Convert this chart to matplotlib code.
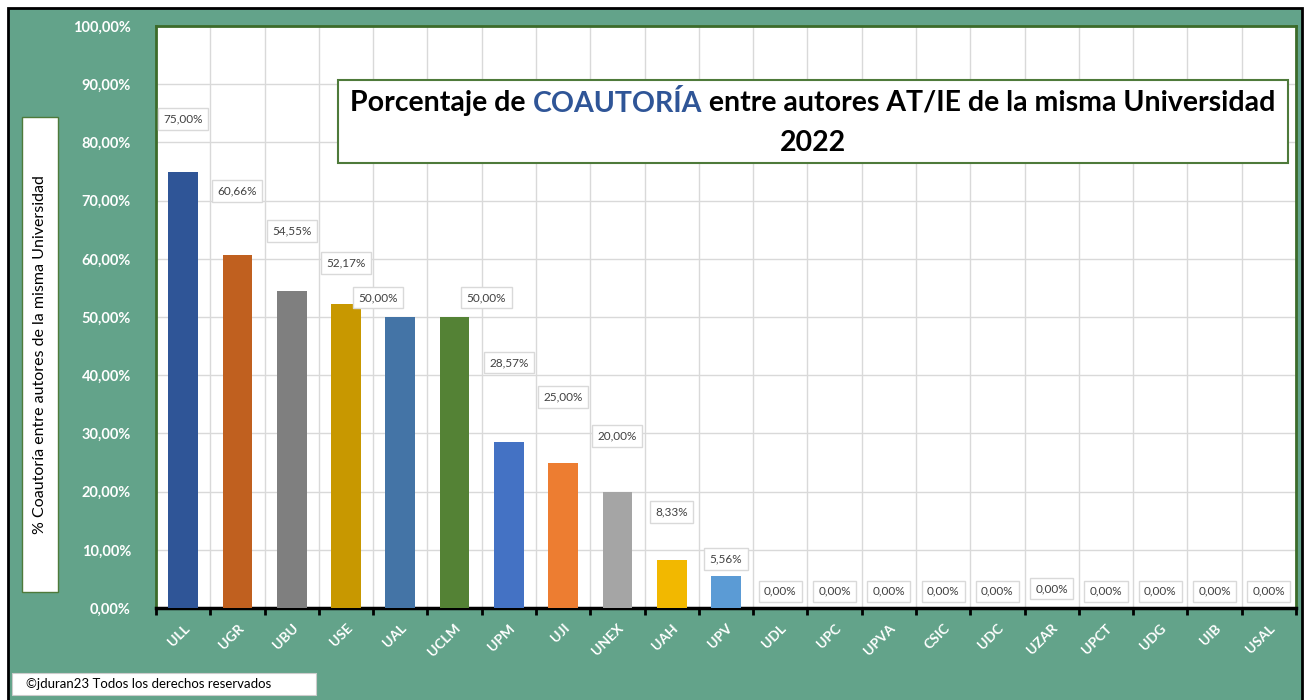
import matplotlib.pyplot as plt
from matplotlib.patches import Rectangle

universidades = ["ULL", "UGR", "UBU", "USE", "UAL", "UCLM", "UPM", "UJI", "UNEX", "UAH", "UPV",
                 "UDL", "UPC", "UPVA", "CSIC", "UDC", "UZAR", "UPCT", "UDG", "UIB", "USAL"]
porcentajes = [75.00, 60.66, 54.55, 52.17, 50.00, 50.00, 28.57, 25.00, 20.00, 8.33, 5.56,
               0, 0, 0, 0, 0, 0, 0, 0, 0, 0]
colores = ["#2F5597", "#C0601F", "#7F7F7F", "#C89800", "#4474A6", "#548235", "#4472C4",
           "#ED7D31", "#A5A5A5", "#F2B800", "#5B9BD5"] + ["#5B9BD5"] * 10
# desplazamiento de las etiquetas (puntos), colocadas a mano como en el original
etiq_dx = [0, 0, 0, 0, -16, 23, 0, 0, 0, 0, 0, 0, 0, 0, 0, 0, 0, 0, 0, 0, 0]
etiq_dy = [38, 46, 43, 30, 14, 14, 57, 47, 40, 34, 12, 12, 12, 12, 12, 12, 14, 12, 12, 12, 12]

verde = "#63A38A"
plt.rcParams["font.family"] = ["Lato", "DejaVu Sans"]

fig = plt.figure(figsize=(13.07, 7.0), dpi=100)
fig.patch.set_facecolor("white")
fig.patches.append(Rectangle((8 / 1307, -0.01), 1294 / 1307, 692 / 700 + 0.01,
                             transform=fig.transFigure,
                             facecolor=verde, edgecolor="black", linewidth=2, zorder=-5))

ax = fig.add_axes([156 / 1307, 92 / 700, 1140 / 1307, 582 / 700])
ax.set_facecolor("white")
x = range(len(universidades))
ax.bar(x, porcentajes, width=0.55, color=colores, zorder=3)

ax.set_xlim(-0.5, len(universidades) - 0.5)
ax.set_ylim(0, 100)
ax.set_yticks(range(0, 101, 10))
ax.set_yticklabels([f"{v},00%" for v in range(0, 101, 10)], color="white",
                   fontweight="bold", fontsize=10.5)
ax.set_xticks(list(x))
ax.set_xticklabels(universidades, rotation=45, color="white", fontweight="bold",
                   fontsize=10, ha="right", va="top", rotation_mode="anchor")
ax.tick_params(axis="x", which="major", length=0, pad=10)
ax.tick_params(axis="y", length=0, pad=18)
ax.set_xticks([i - 0.5 for i in range(len(universidades) + 1)], minor=True)
ax.tick_params(axis="x", which="minor", length=5, width=2, color="black", direction="out")
ax.grid(axis="y", color="#D9D9D9", linewidth=1, zorder=0)
ax.grid(axis="x", which="minor", color="#D9D9D9", linewidth=1, zorder=0)

for lado in ["left", "top", "right"]:
    ax.spines[lado].set_color("#3C6B2A")
    ax.spines[lado].set_linewidth(2)
ax.spines["bottom"].set_color("black")
ax.spines["bottom"].set_linewidth(2.5)

for i, v in enumerate(porcentajes):
    txt = f"{v:.2f}%".replace(".", ",")
    ax.annotate(txt, (i, v), xytext=(etiq_dx[i], etiq_dy[i]), textcoords="offset points",
                ha="center", va="center", fontsize=8.5, color="#404040", zorder=5,
                bbox=dict(boxstyle="square,pad=0.45", facecolor="white",
                          edgecolor="#D9D9D9", linewidth=1))

# caja del titulo
fig.patches.append(Rectangle((338 / 1307, 537 / 700), 950 / 1307, 83 / 700,
                             transform=fig.transFigure, facecolor="white",
                             edgecolor="#4E7A3A", linewidth=1.5, zorder=4))
partes = [("Porcentaje de ", "black"), ("COAUTORÍA", "#2F5597"),
          (" entre autores AT/IE de la misma Universidad", "black")]
fig.canvas.draw()
r = fig.canvas.get_renderer()
textos = [fig.text(0, 597 / 700, p, fontsize=20.5, fontweight="bold", color=c,
                   va="center", ha="left", zorder=5) for p, c in partes]
anchos = [t.get_window_extent(r).width for t in textos]
xx = 813 - sum(anchos) / 2
for t, w in zip(textos, anchos):
    t.set_x(xx / 1307)
    xx += w
fig.text(813 / 1307, 557 / 700, "2022", fontsize=20.5, fontweight="bold",
         va="center", ha="center", zorder=5)

# caja del titulo del eje y
fig.patches.append(Rectangle((22 / 1307, 108 / 700), 36 / 1307, 475 / 700,
                             transform=fig.transFigure, facecolor="white",
                             edgecolor="#4E7A3A", linewidth=1, zorder=4))
fig.text(40 / 1307, 345 / 700, "% Coautoría entre autores de la misma Universidad",
         rotation=90, fontsize=11.5, va="center", ha="center", zorder=5)

# copyright
fig.patches.append(Rectangle((12 / 1307, 5 / 700), 304 / 1307, 22 / 700,
                             transform=fig.transFigure, facecolor="white",
                             edgecolor="#CCCCCC", linewidth=0.8, zorder=4))
fig.text(26 / 1307, 16 / 700, "©jduran23 Todos los derechos reservados", fontsize=9.5,
         va="center", ha="left", zorder=5)

fig.savefig("out.png", dpi=100, facecolor=fig.get_facecolor())
